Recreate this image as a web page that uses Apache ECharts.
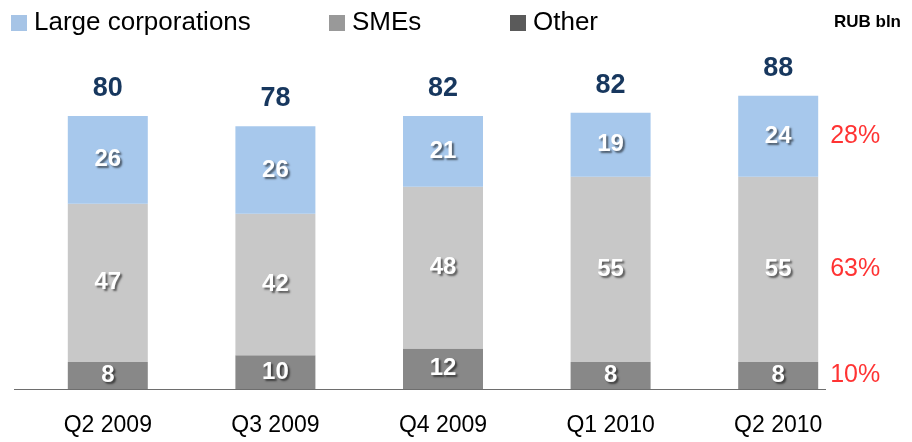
<!DOCTYPE html>
<html>
<head>
<meta charset="utf-8">
<script src="https://cdn.jsdelivr.net/npm/echarts@6/dist/echarts.min.js"></script>
<style>
  html, body { margin: 0; padding: 0; background: #fff; }
  #chart { width: 912px; height: 442px; }
</style>
</head>
<body>
<div id="chart"></div>
<script>
  const categories = ['Q2 2009', 'Q3 2009', 'Q4 2009', 'Q1 2010', 'Q2 2010'];
  const other = [8, 10, 12, 8, 8];
  const smes = [47, 42, 48, 55, 55];
  const large = [26, 26, 21, 19, 24];
  const totals = [80, 78, 82, 82, 88];
  const shares = ['10%', '63%', '28%']; // Q2 2010: Other, SMEs, Large

  const font = 'Liberation Sans, Arial, sans-serif';
  const inside = {
    show: true,
    position: 'inside',
    color: '#fff',
    fontSize: 24,
    fontWeight: 'bold',
    fontFamily: font,
    textShadowColor: 'rgba(0,0,0,0.55)',
    textShadowBlur: 2,
    textShadowOffsetX: 2,
    textShadowOffsetY: 2
  };

  // middle of each segment of the last bar, for the share labels
  const last = categories.length - 1;
  const mids = [
    other[last] / 2,
    other[last] + smes[last] / 2,
    other[last] + smes[last] + large[last] / 2
  ];

  const legendText = { fontSize: 26, color: '#000', fontFamily: font, padding: [0, 0, 0, 2] };
  const legendBase = { top: 5, icon: 'rect', itemWidth: 16, itemHeight: 16, itemGap: 0, textStyle: legendText };

  const chart = echarts.init(document.getElementById('chart'));
  chart.setOption({
    animation: false,
    textStyle: { fontFamily: font },
    title: {
      text: 'RUB bln',
      right: 6,
      top: 9,
      textStyle: { fontSize: 17, fontWeight: 'bold', color: '#000', fontFamily: font }
    },
    legend: [
      Object.assign({ left: 6, data: [{ name: 'Large corporations', itemStyle: { color: '#a6c4e6' } }] }, legendBase),
      Object.assign({ left: 324, data: [{ name: 'SMEs', itemStyle: { color: '#999999' } }] }, legendBase),
      Object.assign({ left: 505, data: [{ name: 'Other', itemStyle: { color: '#5a5a5a' } }] }, legendBase)
    ],
    grid: { left: 24, right: 50, top: 52, bottom: 53 },
    xAxis: {
      type: 'category',
      data: categories,
      axisLine: { show: false },
      axisTick: { show: false },
      axisLabel: { margin: 25, fontSize: 23, color: '#000', fontFamily: font }
    },
    yAxis: {
      type: 'value',
      min: 0,
      max: 100,
      show: false,
      splitLine: { show: false }
    },
    graphic: [{
      type: 'line',
      shape: { x1: 14, y1: 389.5, x2: 826, y2: 389.5 },
      style: { stroke: '#6e6e6e', lineWidth: 1 }
    }],
    series: [
      {
        name: 'Other', type: 'bar', stack: 'a', barWidth: 80,
        itemStyle: { color: '#888888' },
        label: inside,
        data: other
      },
      {
        name: 'SMEs', type: 'bar', stack: 'a', barWidth: 80,
        itemStyle: { color: '#c8c8c8' },
        label: inside,
        data: smes
      },
      {
        name: 'Large corporations', type: 'bar', stack: 'a', barWidth: 80,
        itemStyle: { color: '#a7c8ec' },
        label: inside,
        data: large
      },
      {
        // totals above the stacks
        name: 'total', type: 'bar', stack: 'a', barWidth: 80,
        itemStyle: { color: 'transparent' },
        label: {
          show: true,
          position: 'top',
          distance: 14,
          fontSize: 27,
          fontWeight: 'bold',
          color: '#17375e',
          fontFamily: font,
          formatter: p => totals[p.dataIndex]
        },
        data: totals.map(() => 0)
      },
      {
        name: 'share', type: 'scatter', symbolSize: 0,
        label: {
          show: true,
          position: 'right',
          distance: 52,
          fontSize: 25,
          color: '#ff0000',
          fontFamily: font,
          formatter: p => shares[p.dataIndex]
        },
        data: mids.map(v => [last, v])
      }
    ]
  });
</script>
</body>
</html>
